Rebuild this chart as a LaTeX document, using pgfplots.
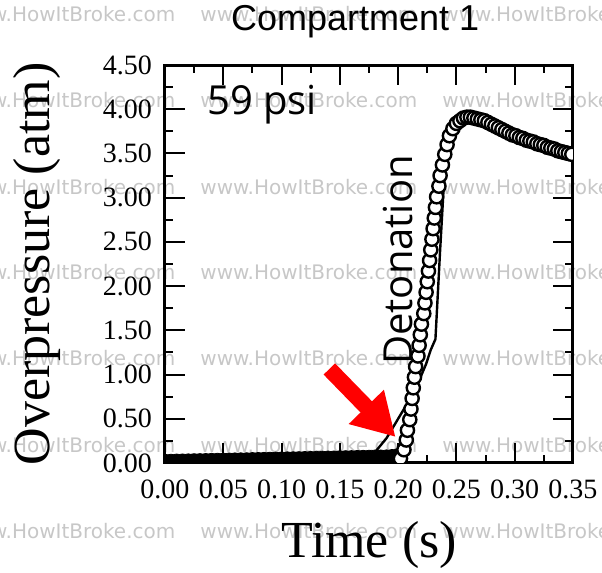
\documentclass[border=0pt]{standalone}
\usepackage{fontspec}
\setmainfont{Liberation Serif}
\newfontfamily\arialf{Liberation Sans}
\newfontfamily\opensans{Open Sans}
\newfontfamily\dejavu{DejaVu Sans}
\usepackage{pgfplots}
\pgfplotsset{compat=1.18}
\usetikzlibrary{arrows.meta}

\begin{document}
\begin{tikzpicture}
% page frame = 602x573 px at 0.5pt per px, axis corner at (0,0)
\path[use as bounding box, clip] (-82.5pt,-55pt) rectangle (218.5pt,231.5pt);

% watermark grid
\foreach \yy in {224.5,181.5,138,95.5,52.5,9,-34} {
  \foreach \xx in {-103.5,17.5,138.5} {
    \node[anchor=west, inner sep=0pt, text=black!22, font=\dejavu\fontsize{10}{10}\selectfont]
      at (\xx pt,\yy pt) {www.HowItBroke.com};
  }
}

\begin{axis}[
    scale only axis,
    width=204pt, height=199pt,
    xmin=0, xmax=0.35, ymin=0, ymax=4.5,
    xtick={0,0.05,0.1,0.15,0.2,0.25,0.3,0.35},
    ytick={0,0.5,1,1.5,2,2.5,3,3.5,4,4.5},
    minor x tick num=1, minor y tick num=1,
    tick align=inside,
    major tick length=10pt, minor tick length=4pt,
    every tick/.style={black, line width=1pt},
    axis line style={line width=1.5pt},
    /pgf/number format/assume math mode=true,
    /pgf/number format/.cd, fixed, fixed zerofill, precision=2, /pgfplots/.cd,
    tick label style={font=\fontsize{14}{14}\selectfont},
    xticklabel style={yshift=-5pt},
    yticklabel style={xshift=-3pt},
    xlabel={Time (s)},
    ylabel={Overpressure (atm)},
    every axis x label/.style={at={(axis description cs:0.5,-0.205)}, anchor=center, font=\fontsize{26}{26}\selectfont},
    every axis y label/.style={at={(axis description cs:-0.314,0.5)}, rotate=90, anchor=center, font=\fontsize{26}{26}\selectfont},
    every axis title shift=0pt,
    title={Compartment 1},
    title style={at={(axis description cs:0.466,1.11)}, anchor=center, font=\arialf\fontsize{18}{18}\selectfont},
    clip marker paths=true,
]
% baseline (dense markers before detonation)
\addplot[only marks, mark=*, mark size=3.25pt, mark options={fill=black, draw=black}] coordinates {
(0.000,0.025) (0.005,0.026) (0.010,0.028) (0.015,0.029) (0.020,0.030) (0.025,0.032)
(0.030,0.033) (0.035,0.034) (0.040,0.036) (0.045,0.037) (0.050,0.038) (0.055,0.040)
(0.060,0.041) (0.065,0.042) (0.070,0.043) (0.075,0.045) (0.080,0.046) (0.085,0.047)
(0.090,0.049) (0.095,0.050) (0.100,0.051) (0.105,0.053) (0.110,0.054) (0.115,0.055)
(0.120,0.057) (0.125,0.058) (0.130,0.059) (0.135,0.061) (0.140,0.062) (0.145,0.063)
(0.150,0.065) (0.155,0.066) (0.160,0.067) (0.165,0.069) (0.170,0.070) (0.175,0.071)
(0.180,0.073) (0.185,0.074) (0.190,0.075) (0.195,0.080) (0.200,0.090)};
% model curve
\addplot[black, line width=1.2pt] coordinates {
(0,0.02) (0.1,0.05) (0.17,0.08) (0.18,0.12) (0.190,0.28) (0.200,0.50) (0.210,0.72)
(0.217,0.90) (0.224,1.12) (0.228,1.28) (0.232,1.40) (0.234,1.9) (0.236,2.4)
(0.239,3.1) (0.243,3.65) (0.247,3.86) (0.255,3.90) (0.265,3.91) (0.28,3.84)
(0.30,3.71) (0.325,3.59) (0.35,3.49)};
% measured
\addplot[only marks, mark=*, mark size=3.3pt, mark options={fill=white, draw=black, line width=1.2pt}] coordinates {
(0.202,0.05) (0.205,0.15) (0.207,0.26) (0.208,0.37) (0.210,0.49) (0.211,0.61)
(0.212,0.73) (0.213,0.85) (0.214,0.97) (0.215,1.09) (0.217,1.21) (0.218,1.33)
(0.219,1.45) (0.220,1.57) (0.222,1.69) (0.223,1.81) (0.224,1.93) (0.225,2.05)
(0.226,2.17) (0.227,2.29) (0.228,2.41) (0.229,2.53) (0.230,2.65) (0.231,2.77)
(0.232,2.89) (0.233,3.01) (0.235,3.13) (0.236,3.25) (0.238,3.37) (0.240,3.49)
(0.242,3.60) (0.244,3.70) (0.247,3.78) (0.250,3.84) (0.253,3.87) (0.256,3.90)
(0.259,3.91) (0.262,3.91) (0.265,3.90) (0.268,3.89) (0.271,3.88) (0.274,3.87)
(0.277,3.85) (0.280,3.83) (0.283,3.81) (0.286,3.79) (0.289,3.77) (0.292,3.75)
(0.295,3.73) (0.298,3.71) (0.301,3.70) (0.304,3.68) (0.307,3.67) (0.310,3.65)
(0.313,3.64) (0.316,3.63) (0.319,3.61) (0.322,3.60) (0.325,3.59) (0.328,3.57)
(0.331,3.56) (0.334,3.55) (0.337,3.53) (0.340,3.52) (0.343,3.51) (0.346,3.50)
(0.349,3.49)};

\node[font=\opensans\fontsize{20}{20}\selectfont] at (axis description cs:0.238,0.90) {59 psi};
\node[font=\opensans\fontsize{20}{20}\selectfont, rotate=90] at (axis description cs:0.571,0.51) {Detonation};
\draw[red, line width=8pt, -{Triangle[width=23pt,length=21pt]}] (axis cs:0.141,1.063) -- (axis cs:0.1978,0.294);
\end{axis}
\end{tikzpicture}
\end{document}
